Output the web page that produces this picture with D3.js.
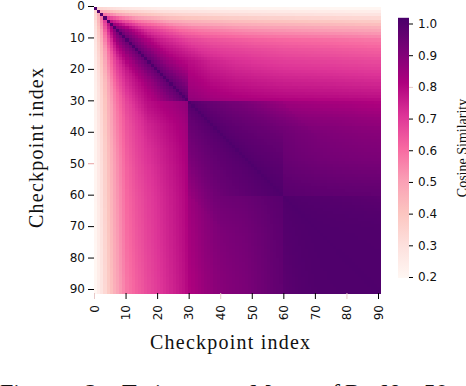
<!DOCTYPE html>
<html><head><meta charset="utf-8">
<script src="https://cdnjs.cloudflare.com/ajax/libs/d3/7.8.5/d3.min.js"></script>
<style>html,body{margin:0;padding:0;background:#fff;overflow:hidden}svg{display:block}</style>
</head><body><div id="chart"></div>
<script>
// Values. A 91x91 grid is not legible cell by cell, so each cell is
// looked up from these read-off profiles: far = similarity of a checkpoint to the last checkpoint,
// the lag and ceiling tables = how far a cell rises from "far" towards 1 near the diagonal.
const checkpoints = d3.range(91);
const tickValues = [0,10,20,30,40,50,60,70,80,90];
const colorbarTicks = [0.2,0.3,0.4,0.5,0.6,0.7,0.8,0.9,1.0];
const far = [.2,.24,.28,.33,.38,.42,.46,.49,.52,.55,
  .58,.595,.61,.625,.635,.645,.66,.67,.68,.69,
  .70,.71,.72,.73,.74,.75,.76,.77,.78,.795,
  .81,.82,.83,.84,.85,.86,.865,.87,.88,.885,
  .89,.893,.897,.90,.903,.906,.909,.912,.915,.92,
  .925,.93,.935,.94,.945,.95,.955,.96,.963,.966,
  .97,.973,.976,.979,.982,.985,.988,.99,.992,.994,
  .995,.996,.997,.997,.998,.998,.998,.999,.999,.999,
  1,1,1,1,1,1,1,1,1,1,1];
const lagPhase1 = [1,.84,.78,.73,.68,.62,.58,.54,.50,.46,.43,.41,.39,.37,.35,.33,.31,.29,.27,.25,.23,.22,.21,.20,.19,.18,.17,.165,.16,.155,
  .15,.145,.14,.135,.13,.125,.12,.115,.11,.105,.10,.097,.094,.091,.088,.085,.082,.079,.076,.073,.07,.068,.066,.064,.062,.06,.058,.056,.054,.052,
  .05,.048,.046,.044,.042,.04,.038,.036,.034,.032,.03,.028,.026,.024,.022,.02,.018,.016,.014,.012,.01,.009,.008,.007,.006,.005,.004,.003,.002,.001,0];
const ceilingPhase1 = [.36,.35,.33,.31,.29,.27,.25,.23,.22,.21,.20,.19,.18,.17,.16,.15,.145,.14,.135,.13,.12,.115,.11,.105,.10,.095,.09,.085,.08,.075,
  .07,.068,.066,.064,.062,.06,.058,.056,.054,.052,.05,.048,.046,.044,.042,.04,.037,.034,.031,.028,.025,.022,.02,.018,.015,.012,.009,.006,.004,.002,0];
const lagPhase2 = [1,.9,.86,.83,.80,.77,.75,.73,.71,.69,.67,.65,.63,.61,.60,.58,.56,.54,.52,.50,.47,.45,.42,.40,.37,.35,.32,.30,.27,.25,
  .2,.19,.18,.17,.16,.15,.145,.14,.13,.125,.12,.11,.105,.10,.095,.09,.085,.08,.075,.07,.065,.06,.05,.045,.04,.03,.025,.02,.01,.005,0];
const ceilingPhase2 = [.42,.40,.38,.36,.33,.31,.29,.27,.25,.23,.21,.19,.17,.16,.14,.13,.12,.11,.1,.09,.08,.07,.06,.05,.04,.03,.024,.018,.012,.006,0];
const earlyRowFade = [.22,.36,.5,.64,.76,.86,.94,1];
const colorStops = ["#fff7f3","#fde0dd","#fcc5c0","#fa9fb5","#f768a1","#dd3497","#ae017e","#7a0177","#49006a"];
const colorDomain = [0.197,1.018];
const xLabel = "Checkpoint index", yLabel = "Checkpoint index", barLabel = "Cosine Similarity";
const captionWords = ["Figure","2:","Trajectory","Map","of","ResNet-50"];
const captionX = [0,85,122,250,320,345];

function gain(a,b){
  const lag=b-a; if(lag===0) return 1;
  let g;
  if(a<30) g = b<30 ? lagPhase1[lag] : Math.min(lagPhase1[lag],ceilingPhase1[b-30]);
  else if(a<60) g = b<60 ? lagPhase2[lag] : Math.min(lagPhase2[lag],ceilingPhase2[b-60]);
  else g = lagPhase2[lag];
  if(a<earlyRowFade.length) g*= earlyRowFade[a];
  return g;
}
function similarity(i,j){
  const a=Math.min(i,j), b=Math.max(i,j);
  return far[a]+(1.005-far[a])*gain(a,b);
}

const W=466,H=386;
const svg=d3.select("#chart").append("svg").attr("width",W).attr("height",H);
const xBand=d3.scaleBand().domain(checkpoints).range([94,380]);
const yBand=d3.scaleBand().domain(checkpoints).range([7,293]);
const xTick=d3.scaleLinear().domain([0,90]).range([94,378]);
const yTick=d3.scaleLinear().domain([0,90]).range([6,289]);
const stopT=d3.range(colorStops.length).map(k=>colorDomain[0]+k/(colorStops.length-1)*(colorDomain[1]-colorDomain[0]));
const color=d3.scaleLinear().domain(stopT).range(colorStops).clamp(true);

const cells=checkpoints.flatMap(i=>checkpoints.map(j=>({i,j,v:similarity(i,j)})));
svg.append("g").attr("shape-rendering","crispEdges").selectAll("rect").data(cells).join("rect")
  .attr("x",d=>xBand(d.j)).attr("y",d=>yBand(d.i))
  .attr("width",xBand.bandwidth()+.5).attr("height",yBand.bandwidth()+.5)
  .attr("fill",d=>color(d.v));

const sans="'DejaVu Sans',sans-serif", serif="'Liberation Serif',serif";
// x axis
const xAxis=svg.append("g").attr("transform","translate(0,293)")
  .call(d3.axisBottom(xTick).tickValues(tickValues).tickSize(6).tickPadding(6).tickSizeOuter(0));
xAxis.select(".domain").remove();
xAxis.selectAll("text").attr("transform","translate(0,12) rotate(-90)")
  .attr("x",0).attr("y",0).attr("dy",".36em").attr("text-anchor","end");
// y axis
const yAxis=svg.append("g").attr("transform","translate(94,0)")
  .call(d3.axisLeft(yTick).tickValues(tickValues).tickSize(6).tickPadding(3).tickSizeOuter(0));
yAxis.select(".domain").remove();
// colour bar
const barY=d3.scaleLinear().domain([0.2,1.0]).range([277,23.5]);
const defs=svg.append("defs").append("linearGradient").attr("id","cb").attr("x1",0).attr("x2",0).attr("y1",1).attr("y2",0);
defs.selectAll("stop").data(colorStops).join("stop").attr("offset",(d,k)=>k/(colorStops.length-1)).attr("stop-color",d=>d);
svg.append("rect").attr("x",398).attr("width",11).attr("y",barY(colorDomain[1])).attr("height",barY(colorDomain[0])-barY(colorDomain[1])).attr("fill","url(#cb)");
const barAxis=svg.append("g").attr("transform","translate(409,0)")
  .call(d3.axisRight(barY).tickValues(colorbarTicks).tickFormat(d3.format(".1f")).tickSize(4).tickPadding(5).tickSizeOuter(0));
barAxis.select(".domain").remove();
svg.selectAll("g.tick text").attr("font-family",sans).attr("font-size",12).attr("fill","#111");
svg.selectAll("g.tick line").attr("stroke","#000").attr("stroke-width",1);
// faint ticks as in the picture
xAxis.selectAll("g.tick line").filter(d=>d===0||d===40||d===80).attr("stroke","#e8c8c8");
yAxis.selectAll("g.tick line").filter(d=>d===50).attr("stroke","#e8a0a0");
barAxis.selectAll("g.tick line").filter(d=>d===0.8).attr("stroke","#e8c8c8");

// labels
svg.append("text").attr("x",230).attr("y",349).attr("text-anchor","middle").attr("font-family",serif).attr("font-size",20).attr("textLength",160).attr("lengthAdjust","spacing").attr("fill","#111").text(xLabel);
svg.append("text").attr("transform","translate(43,148) rotate(-90)").attr("text-anchor","middle").attr("font-family",serif).attr("font-size",20).attr("textLength",160).attr("lengthAdjust","spacing").attr("fill","#111").text(yLabel);
svg.append("text").attr("transform","translate(467,148) rotate(-90)").attr("text-anchor","middle").attr("font-family",serif).attr("font-size",14).attr("fill","#111").text(barLabel);
// caption (cut off by the page edge)
svg.append("g").selectAll("text").data(captionWords).join("text")
  .attr("x",(d,k)=>captionX[k]).attr("y",400).attr("font-family",serif).attr("font-size",24).attr("fill","#111").text(d=>d);
</script></body></html>
